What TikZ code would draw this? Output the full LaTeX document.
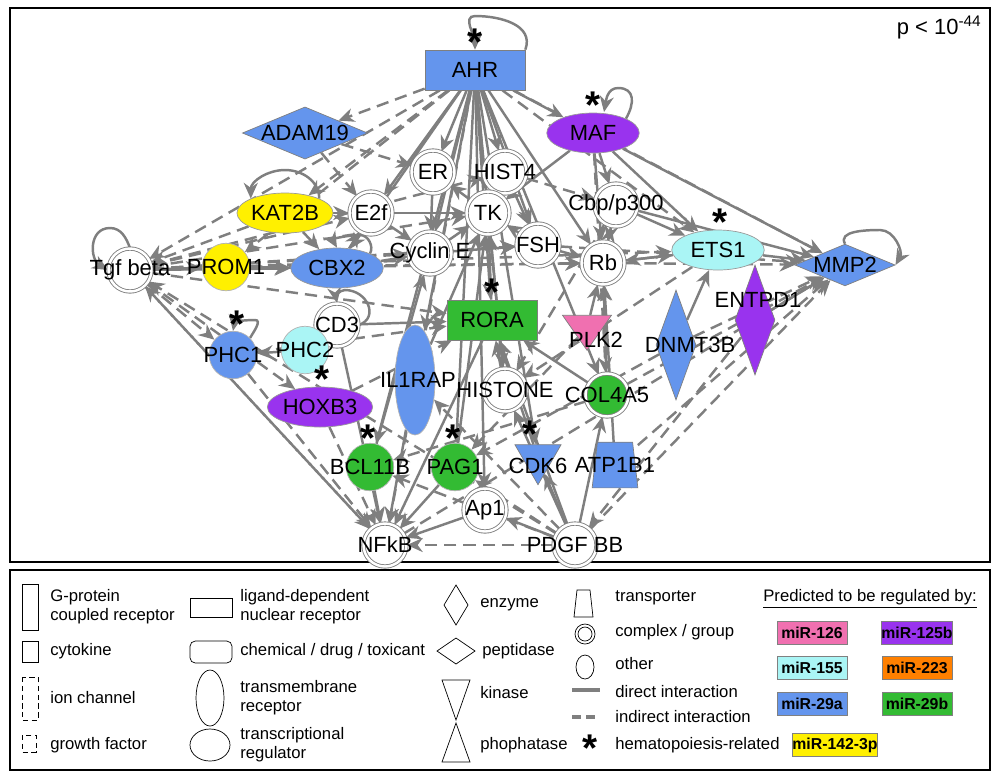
\documentclass[tikz,border=0pt]{standalone}
\usepackage{fontspec}
\setmainfont{Liberation Sans}
\usetikzlibrary{shapes.geometric,arrows.meta,backgrounds}
\definecolor{eg}{HTML}{7F7F7F}
\definecolor{cb}{HTML}{6495ED}
\definecolor{cp}{HTML}{9933EE}
\definecolor{cc}{HTML}{AAF5F5}
\definecolor{cgn}{HTML}{33BB33}
\definecolor{cy}{HTML}{FFF000}
\definecolor{ck}{HTML}{F070B0}
\definecolor{co}{HTML}{FF8000}
\begin{document}
\begin{tikzpicture}[x=0.02cm,y=-0.02cm,
 lab/.style={font=\fontsize{12.5}{13}\selectfont,inner sep=0pt},
 cx/.style={circle,draw=eg,double=white,double distance=1.4pt,fill=white,minimum size=0.86cm,inner sep=0pt,line width=0.5pt,label={[lab]center:#1}},
 cf/.style 2 args={circle,fill=#1,draw=eg!60,minimum size=0.95cm,inner sep=0pt,label={[lab]center:#2}},
 ell/.style={ellipse,lab,draw=eg!80,minimum width=1.85cm,minimum height=0.8cm},
 e/.style={draw=eg,line width=1.4pt,-{Stealth[length=9pt,width=8pt]}},
 d/.style={e,dash pattern=on 7pt off 4pt},
 star/.style={font=\fontsize{22}{22}\selectfont\bfseries,inner sep=0pt},
 leg/.style={font=\fontsize{9.5}{11}\selectfont,align=left,anchor=west,inner sep=0pt},
 mir/.style={draw=gray,font=\fontsize{9}{10}\selectfont\bfseries,minimum width=1.4cm,minimum height=0.46cm,inner sep=0pt}]
\useasboundingbox (0,0) rectangle (1000,779);
\draw[line width=0.8pt] (10,8) rectangle (990,562);
\draw[line width=0.8pt] (10,570) rectangle (990,770);
\node[lab,anchor=north east] (pv) at (982,16) {p < 10\textsuperscript{-44}};
% nodes
\node[draw=eg,fill=cb,lab,minimum width=2cm,minimum height=0.8cm] (AHR) at (475,70) {AHR};
\node[diamond,aspect=2.4,draw=eg,fill=cb,lab,minimum width=1.9cm,minimum height=0.8cm,inner sep=0pt] (ADAM) at (305,133) {ADAM19};
\node[ell,fill=cp] (MAF) at (593,133) {MAF};
\node[cx=ER] (ER) at (433,172) {};
\node[cx=HIST4] (HIST4) at (505,172) {};
\node[ell,fill=cy] (KAT) at (285,213) {KAT2B};
\node[cx=E2f] (E2f) at (371,213) {};
\node[cx=TK] (TK) at (488,213) {};
\node[cx=Cbp/p300] (Cbp) at (616,205) {};
\node[ell,fill=cc] (ETS) at (718,250) {ETS1};
\node[diamond,aspect=2.4,draw=eg,fill=cb,lab,minimum width=1.9cm,minimum height=0.8cm,inner sep=0pt] (MMP) at (845,265) {MMP2};
\node[cx=Tgf beta] (Tgf) at (130,270) {};
\node[cf={cy}{PROM1}] (PROM) at (226,267) {};
\node[ell,fill=cb] (CBX) at (337,268) {CBX2};
\node[cx=Cyclin E] (Cyc) at (430,253) {};
\node[cx=FSH] (FSH) at (538,245) {};
\node[cx=Rb] (Rb) at (603,263) {};
\node[draw=eg,fill=cgn,lab,minimum width=1.8cm,minimum height=0.8cm] (RORA) at (492,320) {RORA};
\node[diamond,aspect=0.36,draw=eg,fill=cp,minimum width=0.8cm,minimum height=2.2cm,inner sep=0pt] (ENT) at (755,320) {};
\node[lab] (tENT) at (758,300) {ENTPD1};
\node[diamond,aspect=0.36,draw=eg,fill=cb,minimum width=0.8cm,minimum height=2.2cm,inner sep=0pt] (DNM) at (676,345) {};
\node[lab] (tDNM) at (690,345) {DNMT3B};
\node[isosceles triangle,shape border rotate=-90,isosceles triangle apex angle=70,draw=eg,fill=ck,minimum width=0.9cm,minimum height=0.7cm,inner sep=0pt] (PLK) at (587,328) {};
\node[lab] (tPLK) at (596,340) {PLK2};
\node[cx=CD3] (CD3) at (337,325) {};
\node[cf={cb}{PHC1}] (PHC1) at (233,355) {};
\node[cf={cc}{PHC2}] (PHC2) at (305,350) {};
\node[ellipse,fill=cb,draw=eg!60,minimum width=0.8cm,minimum height=2.2cm,lab] (IL1) at (415,380) {};
\node[lab] (tIL1) at (418,380) {IL1RAP};
\node[cx=HISTONE] (HIS) at (505,390) {};
\node[cx=COL4A5,fill=cgn] (COL) at (607,395) {};
\node[ell,fill=cp] (HOX) at (320,407) {HOXB3};
\node[cf={cgn}{BCL11B}] (BCL) at (370,467) {};
\node[cf={cgn}{PAG1}] (PAG) at (455,467) {};
\node[isosceles triangle,shape border rotate=-90,isosceles triangle apex angle=60,draw=eg,fill=cb,minimum width=0.85cm,minimum height=0.8cm,inner sep=0pt] (CDK) at (538,458) {};
\node[lab] (tCDK) at (538,466) {CDK6};
\node[minimum width=0.9cm,minimum height=0.9cm,inner sep=0pt] (ATP) at (615,465) {};
\fill[cb,draw=eg] (ATP.south west) -- (ATP.south east) -- ([xshift=-3pt]ATP.north east) -- ([xshift=3pt]ATP.north west) -- cycle;
\node[lab] (tATP) at (615,465) {ATP1B1};
\node[cx=Ap1] (Ap1) at (485,510) {};
\node[cx=NFkB] (NFkB) at (385,545) {};
\node[cx=PDGF BB] (PDGF) at (575,545) {};
% stars
\foreach \x/\y [count=\i] in {475/42,593/105,720/222,492/292,237/324,322/379,368/438,453/438,530/434}
  \node[star] (s\i) at (\x,\y) {*};
\begin{pgfonlayer}{background}
\foreach \a/\b in {AHR/ER,AHR/HIST4,AHR/TK,AHR/E2f,AHR/CBX,AHR/Cyc,AHR/RORA,AHR/IL1,AHR/PAG,AHR/BCL,AHR/MAF,AHR/Rb,AHR/FSH,AHR/HIS,AHR/CDK,AHR/COL,AHR/Ap1,
 MAF/Cbp,MAF/ETS,MAF/MMP,MAF/Rb,MAF/TK,Cbp/ETS,Cbp/MMP,Cbp/Rb,ETS/MMP,ENT/MMP,Rb/ETS,FSH/Rb,FSH/TK,TK/ER,HIST4/TK,E2f/TK,E2f/Cyc,Cyc/TK,Cyc/FSH,
 KAT/E2f,CBX/Cyc,PROM/CBX,Tgf/PROM,Tgf/CBX,CD3/RORA,PHC2/PHC1,CD3/PHC2,IL1/NFkB,BCL/NFkB,PAG/NFkB,CD3/NFkB,RORA/NFkB,Ap1/NFkB,
 PDGF/Ap1,PDGF/CDK,PDGF/COL,PDGF/RORA,PDGF/HIS,HIS/RORA,COL/Rb,PLK/Rb,DNM/ETS,ATP/Rb,CDK/RORA,PAG/TK,BCL/Cyc,IL1/TK,HIS/TK,Rb/Cbp,ER/Cyc,HIST4/FSH,RORA/TK,COL/RORA,ETS/Rb}
  \draw[e] (\a) -- (\b);
\foreach \a/\b in {AHR/KAT,AHR/Tgf,AHR/PROM,AHR/NFkB,AHR/MMP,AHR/ETS,ADAM/ER,ADAM/E2f,KAT/Tgf,Tgf/E2f,Tgf/Cyc,Tgf/PHC1,Tgf/HOX,Tgf/NFkB,Tgf/RORA,Tgf/Rb,Tgf/ETS,Tgf/FSH,
 Rb/MMP,DNM/MMP,COL/MMP,ATP/MMP,PDGF/MMP,NFkB/MMP,FSH/MMP,HOX/NFkB,PHC1/NFkB,PDGF/NFkB,PDGF/Tgf,PDGF/IL1,PDGF/PAG,PDGF/BCL,NFkB/Tgf,
 KAT/CBX,CBX/E2f,HOX/RORA,PHC1/RORA,PROM/Rb,Tgf/TK,Tgf/HIST4,MAF/COL,Cbp/HIS,ETS/HIS,PLK/PAG,DNM/PAG,COL/BCL,ENT/PDGF,HIST4/Cbp,AHR/ADAM}
  \draw[d] (\a) -- (\b);
\draw[e] (AHR.north east) to[out=70,in=0,looseness=1.1] (475,16) to[out=180,in=90] (AHR.north);
\draw[e] (MAF.north east) to[out=60,in=0,looseness=1.4] (618,88) to[out=180,in=80] (604,112);
\draw[e] (MMP.north) to[out=120,in=180] (880,230) to[out=0,in=60] (MMP.east);
\draw[e] (Tgf.north) to[out=110,in=0] (110,228) to[out=180,in=150,looseness=1.3] (Tgf.west);
\draw[e] (KAT.north east) to[out=90,in=0] (285,170) to[out=180,in=90] (KAT.north west);
\draw[e] (PHC1.north east) to[out=60,in=0] (255,320) to[out=180,in=80] (PHC1.north);
\draw[e] (CD3.east) to[out=20,in=0,looseness=1.5] (345,290) to[out=180,in=100] (CD3.north);
\draw[e] (CBX.north east) to[out=60,in=0] (360,235) to[out=180,in=120] (CBX.north);
\end{pgfonlayer}
% legend
\draw (22,584) rectangle (38,630); \node[leg] (l1) at (50,607) {G-protein\\coupled receptor};
\draw (22,641) rectangle (38,662); \node[leg] (l2) at (50,651) {cytokine};
\draw[densely dashed] (22,677) rectangle (38,720); \node[leg] (l3) at (50,698) {ion channel};
\draw[densely dashed] (22,735) rectangle (36,752); \node[leg] (l4) at (50,745) {growth factor};
\draw (190,598) rectangle (232,617); \node[leg] (l5) at (240,607) {ligand-dependent\\nuclear receptor};
\draw[rounded corners=3pt] (190,641) rectangle (232,663); \node[leg] (l6) at (240,651) {chemical / drug / toxicant};
\draw (210,698) ellipse (14 and 28); \node[leg] (l7) at (240,698) {transmembrane\\receptor};
\draw (210,745) ellipse (20 and 16); \node[leg] (l8) at (240,745) {transcriptional\\regulator};
\draw (456,585) -- (468,605) -- (456,625) -- (444,605) -- cycle; \node[leg] (l9) at (480,605) {enzyme};
\draw (456,638) -- (475,651) -- (456,664) -- (437,651) -- cycle; \node[leg] (l10) at (482,651) {peptidase};
\draw (442,680) -- (470,680) -- (456,720) -- cycle; \node[leg] (l11) at (480,693) {kinase};
\draw (442,762) -- (470,762) -- (456,723) -- cycle; \node[leg] (l12) at (480,745) {phophatase};
\draw (574,617) -- (593,617) -- (590,590) -- (577,590) -- cycle; \node[leg] (l13) at (615,598) {transporter};
\draw (585,634) circle (10); \draw (585,634) circle (7); \node[leg] (l14) at (615,632) {complex / group};
\draw (585,667) ellipse (9 and 12); \node[leg] (l15) at (615,664) {other};
\draw[eg,line width=2pt] (572,690) -- (600,690); \node[leg] (l16) at (615,692) {direct interaction};
\draw[eg,line width=2pt,dash pattern=on 5pt off 3pt] (572,717) -- (600,717); \node[leg] (l17) at (615,717) {indirect interaction};
\node[star] (ls) at (590,748) {*}; \node[leg] (l18) at (615,745) {hematopoiesis-related};
\node[leg] (pr) at (763,599) {\underline{Predicted to be regulated by:}};
\node[mir,fill=ck] (m1) at (812,633) {miR-126};
\node[mir,fill=cp] (m2) at (917,633) {miR-125b};
\node[mir,fill=cc] (m3) at (812,668) {miR-155};
\node[mir,fill=co] (m4) at (917,668) {miR-223};
\node[mir,fill=cb] (m5) at (812,704) {miR-29a};
\node[mir,fill=cgn] (m6) at (917,704) {miR-29b};
\node[mir,fill=cy] (m7) at (835,745) {miR-142-3p};
\end{tikzpicture}
\end{document}
